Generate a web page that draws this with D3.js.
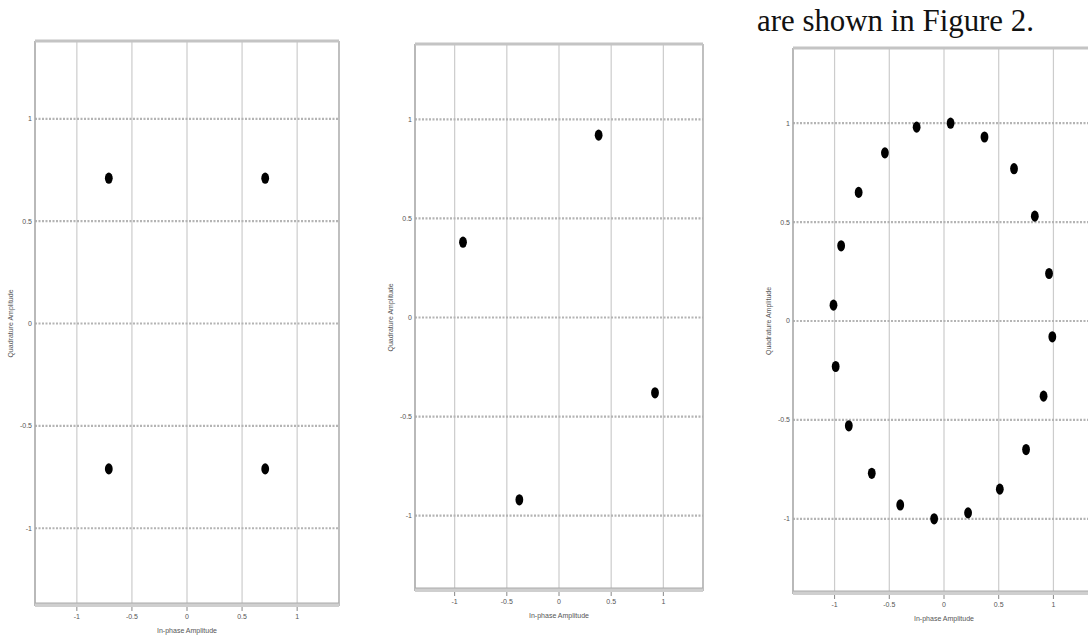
<!DOCTYPE html>
<html>
<head>
<meta charset="utf-8">
<script src="https://cdn.jsdelivr.net/npm/d3@7/dist/d3.min.js"></script>
<style>
  html, body { margin: 0; padding: 0; background: #fff; }
  svg { display: block; }
</style>
</head>
<body>
<svg id="chart" width="1088" height="637"></svg>
<script>
// ---------- data ----------
const xTicks = [-1, -0.5, 0, 0.5, 1];
const yTicks = [1, 0.5, 0, -0.5, -1];
const xTickLabels = ["-1", "-0.5", "0", "0.5", "1"];
const yTickLabels = ["1", "0.5", "0", "-0.5", "-1"];
const xTitle = "In-phase Amplitude";
const yTitle = "Quadrature Amplitude";
const captionText = "are shown in Figure 2.";

// Panel 1: QPSK
const p1I = [-0.71, 0.71, -0.71, 0.71];
const p1Q = [0.71, 0.71, -0.71, -0.71];

// Panel 2: rotated QPSK
const p2I = [0.38, -0.92, 0.92, -0.38];
const p2Q = [0.92, 0.38, -0.38, -0.92];

// Panel 3: 20-point ring
const p3I = [0.06, 0.37, 0.64, 0.83, 0.96, 0.99, 0.91, 0.75, 0.51, 0.22,
             -0.09, -0.40, -0.66, -0.87, -0.99, -1.01, -0.94, -0.78, -0.54, -0.25];
const p3Q = [1.00, 0.93, 0.77, 0.53, 0.24, -0.08, -0.38, -0.65, -0.85, -0.97,
             -1.00, -0.93, -0.77, -0.53, -0.23, 0.08, 0.38, 0.65, 0.85, 0.98];

// ---------- layout ----------
const xDomain = [-1.38, 1.38];
const yDomain = [-1.37, 1.38];
const panels = [
  { left: 35,  right: 339,  top: 41, bottom: 604, I: p1I, Q: p1Q },
  { left: 415, right: 703,  top: 44, bottom: 589, I: p2I, Q: p2Q },
  { left: 793, right: 1095, top: 48, bottom: 592, I: p3I, Q: p3Q }
];

const svg = d3.select("#chart");

// caption text at the top right
svg.append("text")
  .attr("transform", "translate(757,31) scale(0.965,1)")
  .attr("font-family", "'Liberation Serif', 'Times New Roman', serif")
  .attr("font-size", 32)
  .attr("fill", "#111")
  .text(captionText);

panels.forEach((p, i) => {
  const x = d3.scaleLinear().domain(xDomain).range([p.left, p.right]);
  const y = d3.scaleLinear().domain(yDomain).range([p.bottom, p.top]);
  const g = svg.append("g");

  // vertical grid lines (solid, light)
  g.selectAll(".vg").data(xTicks).join("line")
    .attr("x1", d => x(d)).attr("x2", d => x(d))
    .attr("y1", p.top).attr("y2", p.bottom)
    .attr("stroke", "#cccccc").attr("stroke-width", 1.2);

  // horizontal grid lines (dotted, heavier)
  g.selectAll(".hg").data(yTicks).join("line")
    .attr("x1", p.left).attr("x2", p.right)
    .attr("y1", d => y(d)).attr("y2", d => y(d))
    .attr("stroke", "#b4b4b4").attr("stroke-width", 2.2)
    .attr("stroke-dasharray", "2,1.5");

  // frame
  g.append("line").attr("x1", p.left).attr("x2", p.left)
    .attr("y1", p.top).attr("y2", p.bottom + 2)
    .attr("stroke", "#a8a8a8").attr("stroke-width", 1.6);
  g.append("line").attr("x1", p.right).attr("x2", p.right)
    .attr("y1", p.top).attr("y2", p.bottom + 2)
    .attr("stroke", "#b0b0b0").attr("stroke-width", 1.6);
  g.append("rect").attr("x", p.left).attr("y", p.top - 1.5)
    .attr("width", p.right - p.left).attr("height", 3)
    .attr("fill", "#c4c4c4");
  g.append("rect").attr("x", p.left).attr("y", p.bottom - 1)
    .attr("width", p.right - p.left).attr("height", 4)
    .attr("fill", "#cfcfcf");
  g.append("line").attr("x1", p.left).attr("x2", p.right)
    .attr("y1", p.bottom - 1).attr("y2", p.bottom - 1)
    .attr("stroke", "#aaaaaa").attr("stroke-width", 1);

  // x ticks
  g.selectAll(".xt").data(xTicks).join("line")
    .attr("x1", d => x(d)).attr("x2", d => x(d))
    .attr("y1", p.bottom + 3).attr("y2", p.bottom + 7)
    .attr("stroke", "#888").attr("stroke-width", 1);
  g.selectAll(".xl").data(xTicks).join("text")
    .attr("x", d => x(d)).attr("y", p.bottom + 15)
    .attr("text-anchor", "middle")
    .attr("font-family", "'Liberation Sans', Arial, sans-serif")
    .attr("font-size", 7).attr("fill", "#555")
    .text((d, k) => xTickLabels[k]);

  // y tick labels
  g.selectAll(".yl").data(yTicks).join("text")
    .attr("x", p.left - 3).attr("y", d => y(d) + 2.5)
    .attr("text-anchor", "end")
    .attr("font-family", "'Liberation Sans', Arial, sans-serif")
    .attr("font-size", 7).attr("fill", "#555")
    .text((d, k) => yTickLabels[k]);

  // axis titles
  g.append("text")
    .attr("x", x(0)).attr("y", p.bottom + 29)
    .attr("text-anchor", "middle")
    .attr("font-family", "'Liberation Sans', Arial, sans-serif")
    .attr("font-size", 7).attr("fill", "#555")
    .text(xTitle);
  g.append("text")
    .attr("transform", `translate(${p.left - 22},${y(0)}) rotate(-90)`)
    .attr("text-anchor", "middle")
    .attr("font-family", "'Liberation Sans', Arial, sans-serif")
    .attr("font-size", 7).attr("fill", "#555")
    .text(yTitle);

  // constellation points
  const pts = p.I.map((v, k) => ({ i: v, q: p.Q[k] }));
  g.selectAll(".pt").data(pts).join("ellipse")
    .attr("cx", d => x(d.i)).attr("cy", d => y(d.q))
    .attr("rx", 3.9).attr("ry", 5.6)
    .attr("fill", "#000");
});
</script>
</body>
</html>
